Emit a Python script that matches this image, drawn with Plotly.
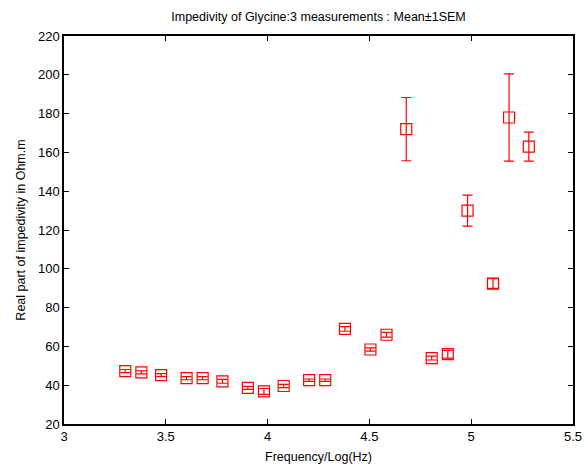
import plotly.graph_objects as go

log_freq = [3.301, 3.380, 3.477, 3.602, 3.681, 3.778, 3.903, 3.982, 4.079, 4.204, 4.283,
            4.380, 4.505, 4.584, 4.681, 4.806, 4.885, 4.982, 5.107, 5.186, 5.283]
mean_vals = [47.3, 46.6, 45.2, 43.6, 43.6, 42.0, 38.6, 36.8, 39.6, 42.6, 42.6,
             69.0, 58.4, 66.0, 172.0, 54.0, 56.0, 130.0, 92.4, 178.0, 163.0]
sem_vals = [0.8, 0.8, 0.8, 0.8, 0.8, 1.0, 0.8, 1.5, 0.8, 0.6, 0.6,
            1.2, 0.8, 1.2, 16.3, 1.0, 2.0, 8.0, 2.5, 22.5, 7.5]

x_ticks = [3, 3.5, 4, 4.5, 5, 5.5]
x_tick_labels = ["3", "3.5", "4", "4.5", "5", "5.5"]
y_ticks = list(range(20, 221, 20))

FONT = "Liberation Sans, Arial"

fig = go.Figure()
fig.add_trace(go.Scatter(
    x=log_freq, y=mean_vals, mode="markers",
    marker=dict(symbol="square-open", size=11, color="red", line=dict(width=1.2, color="red")),
    error_y=dict(type="data", array=sem_vals, visible=True, color="red", thickness=1.2, width=5),
    showlegend=False,
))

axis_common = dict(showline=True, linecolor="black", linewidth=1.5, mirror="ticks",
                   ticks="inside", ticklen=5, tickwidth=1, tickcolor="black",
                   showgrid=False, zeroline=False, automargin=False,
                   tickfont=dict(family=FONT, size=13, color="black"))

fig.update_layout(
    width=585, height=468,
    margin=dict(l=64, r=12, t=36, b=44, autoexpand=False),
    paper_bgcolor="white", plot_bgcolor="white",
    title=dict(text="Impedivity of Glycine:3 measurements : Mean\u00b11SEM",
               x=0.5, xanchor="center", xref="paper", y=1 - 17 / 468, yanchor="middle",
               automargin=False,
               font=dict(family=FONT, size=12.5, color="black")),
    xaxis=dict(range=[3, 5.5], tickvals=x_ticks, ticktext=x_tick_labels,
               title=dict(text="Frequency/Log(Hz)", standoff=9,
                          font=dict(family=FONT, size=12.5, color="black")),
               **axis_common),
    yaxis=dict(range=[20, 220], tickvals=y_ticks,
               title=dict(text="Real part of impedivity in Ohm.m", standoff=10,
                          font=dict(family=FONT, size=12.5, color="black")),
               **axis_common),
)

fig.write_html("out.html")
